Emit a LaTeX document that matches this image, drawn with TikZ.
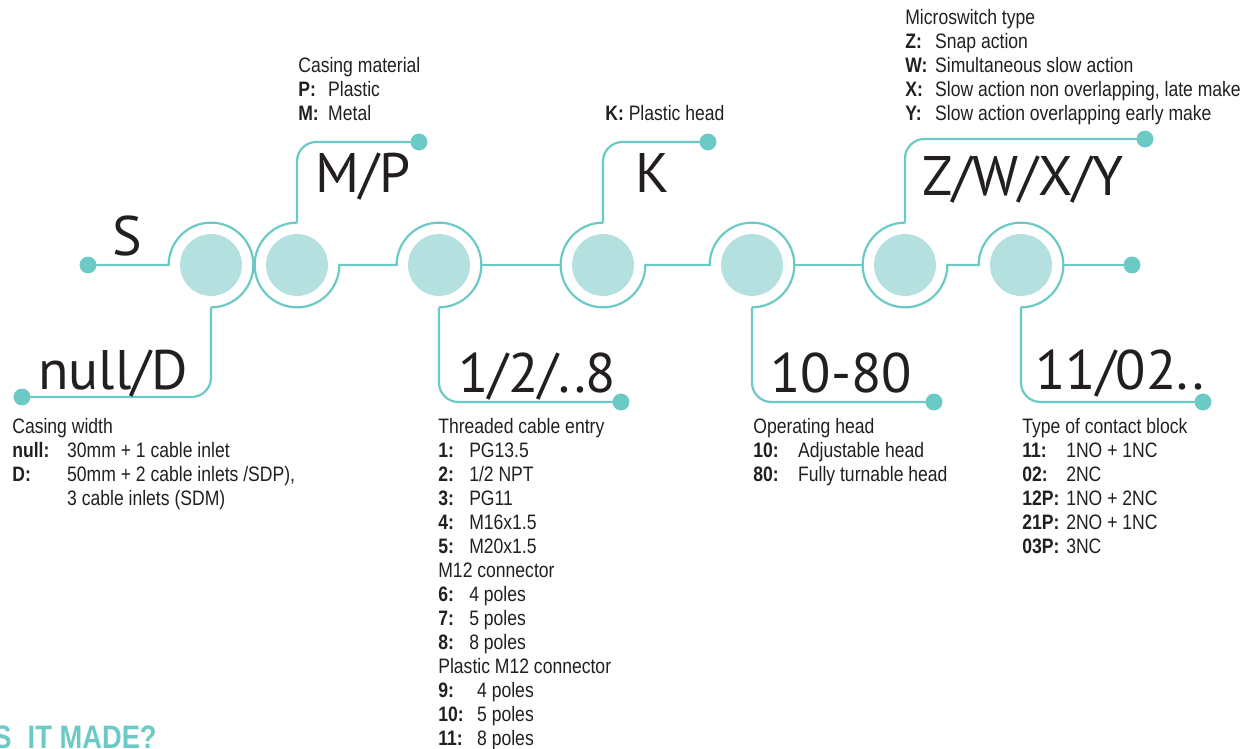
\documentclass[tikz,border=0pt]{standalone}
\usepackage{fontspec}
\setmainfont{Liberation Sans}[FakeStretch=0.84]
\newfontfamily\bigf{PT Sans}
\definecolor{tealc}{RGB}{107,202,197}
\definecolor{tealfill}{RGB}{180,224,223}
\definecolor{ink}{RGB}{35,31,32}
\newcommand\lab[3]{\makebox[#1][l]{\bfseries #2}#3}
\newcommand\descblock[4]{%
  \foreach \t [count=\i from 0] in {#4}{%
    \node[desc] (#1-\i) at (#2,#3-24*\i) {\t};}}
\tikzset{
  wire/.style={draw=tealc, line width=1.25pt},
  rwire/.style={wire, rounded corners=11pt},
  core/.style={circle, fill=tealfill, minimum size=35.2pt, inner sep=0pt},
  dot/.style={circle, fill=tealc, minimum size=9.6pt, inner sep=0pt},
  code/.style={anchor=base west, inner sep=0pt, text=ink, font=\bigf\fontsize{31.7}{38}\selectfont},
  desc/.style={anchor=base west, inner sep=0pt, text=ink, font=\fontsize{11.9}{13.6}\selectfont},
}
\begin{document}
\begin{tikzpicture}[x=0.02cm, y=0.02cm]
\useasboundingbox (0,0) rectangle (1253,748);
% circle centres
\coordinate (c1) at (211,483);
\coordinate (c2) at (297,483);
\coordinate (c3) at (439,483);
\coordinate (c4) at (603,483);
\coordinate (c5) at (752,483);
\coordinate (c6) at (905,483);
\coordinate (c7) at (1021,483);
% dot positions
\coordinate (pS) at (88,483);
\coordinate (pND) at (22,351);
\coordinate (pMP) at (419,606);
\coordinate (p18) at (621,346);
\coordinate (pK) at (708,606);
\coordinate (p1080) at (934,346);
\coordinate (pZ) at (1145,609);
\coordinate (p1102) at (1203,346);
\coordinate (pEnd) at (1132,483);
% wires and rings
\draw[wire] (pS) -- ([xshift=-24.1pt]c1) arc[start angle=180, end angle=-90, radius=24.1pt];
\draw[rwire] ([yshift=-24.1pt]c1) -- (c1 |- pND) -- (pND);
\draw[rwire] (pMP) -- (pMP -| c2) -- ([yshift=24.1pt]c2);
\draw[wire] ([yshift=24.1pt]c2) arc[start angle=90, end angle=360, radius=24.1pt]
  -- ([xshift=-24.1pt]c3) arc[start angle=180, end angle=-90, radius=24.1pt];
\draw[rwire] ([yshift=-24.1pt]c3) -- (c3 |- p18) -- (p18);
\draw[wire] ([xshift=24.1pt]c3) -- ([xshift=-24.1pt]c4);
\draw[rwire] (pK) -- (pK -| c4) -- ([yshift=24.1pt]c4);
\draw[wire] ([yshift=24.1pt]c4) arc[start angle=90, end angle=360, radius=24.1pt]
  -- ([xshift=-24.1pt]c5) arc[start angle=180, end angle=-90, radius=24.1pt];
\draw[rwire] ([yshift=-24.1pt]c5) -- (c5 |- p1080) -- (p1080);
\draw[wire] ([xshift=24.1pt]c5) -- ([xshift=-24.1pt]c6);
\draw[rwire] (pZ) -- (pZ -| c6) -- ([yshift=24.1pt]c6);
\draw[wire] ([yshift=24.1pt]c6) arc[start angle=90, end angle=360, radius=24.1pt]
  -- ([xshift=-24.1pt]c7) arc[start angle=180, end angle=-90, radius=24.1pt];
\draw[rwire] ([yshift=-24.1pt]c7) -- (c7 |- p1102) -- (p1102);
\draw[wire] ([xshift=24.1pt]c7) -- (pEnd);
% cores
\foreach \c in {1,...,7} \node[core] (k\c) at (c\c) {};
% dots
\node[dot] (dS) at (pS) {};
\node[dot] (dND) at (pND) {};
\node[dot] (dMP) at (pMP) {};
\node[dot] (d18) at (p18) {};
\node[dot] (dK) at (pK) {};
\node[dot] (d1080) at (p1080) {};
\node[dot] (dZ) at (pZ) {};
\node[dot] (d1102) at (p1102) {};
\node[dot] (dEnd) at (pEnd) {};
% codes
\node[code] (tS) at (112,492) {S};
\node[code] (tMP) at (315,555) {M/P};
\node[code] (tND) at (38,359) {null/D};
\node[code] (tK) at (635,555) {K};
\node[code] (t18) at (458,356) {1/2/..8};
\node[code] (t1080) at (770,356) {10-80};
\node[code] (tZ) at (922,552) {Z/W/X/Y};
\node[code] (t1102) at (1035,359) {11/02..};
% descriptions
\descblock{cw}{12}{315}{Casing width,
  \lab{31.2pt}{null:}{30mm + 1 cable inlet},
  {\lab{31.2pt}{D:}{50mm + 2 cable inlets /SDP),}},
  \hspace*{31.2pt}3 cable inlets (SDM)}
\descblock{cm}{298}{675}{Casing material,
  \lab{17pt}{P:}{Plastic},
  \lab{17pt}{M:}{Metal}}
\node[desc] (kh) at (605,627) {\textbf{K:} Plastic head};
\descblock{ms}{905}{723}{Microswitch type,
  \lab{17pt}{Z:}{Snap action},
  \lab{17pt}{W:}{Simultaneous slow action},
  {\lab{17pt}{X:}{Slow action non overlapping, late make}},
  \lab{17pt}{Y:}{Slow action overlapping early make}}
\descblock{tc}{438}{315}{Threaded cable entry,
  \lab{17.6pt}{1:}{PG13.5},
  \lab{17.6pt}{2:}{1/2 NPT},
  \lab{17.6pt}{3:}{PG11},
  \lab{17.6pt}{4:}{M16x1.5},
  \lab{17.6pt}{5:}{M20x1.5},
  M12 connector,
  \lab{17.6pt}{6:}{4 poles},
  \lab{17.6pt}{7:}{5 poles},
  \lab{17.6pt}{8:}{8 poles},
  Plastic M12 connector,
  \lab{22.1pt}{9:}{4 poles},
  \lab{22.1pt}{10:}{5 poles},
  \lab{22.1pt}{11:}{8 poles}}
\descblock{oh}{753}{315}{Operating head,
  \lab{25.5pt}{10:}{Adjustable head},
  \lab{25.5pt}{80:}{Fully turnable head}}
\descblock{cb}{1022}{315}{Type of contact block,
  \lab{25pt}{11:}{1NO + 1NC},
  \lab{25pt}{02:}{2NC},
  \lab{25pt}{12P:}{1NO + 2NC},
  \lab{25pt}{21P:}{2NO + 1NC},
  \lab{25pt}{03P:}{3NC}}
% cropped heading
\begin{scope}
\clip (0,0) rectangle (1253,748);
\node[anchor=base east, inner sep=0pt, text=tealc, font=\bfseries\fontsize{18.5}{20}\selectfont] (title) at (157,0) {S\hspace{0.5em}IT MADE?};
\end{scope}
\end{tikzpicture}
\end{document}
